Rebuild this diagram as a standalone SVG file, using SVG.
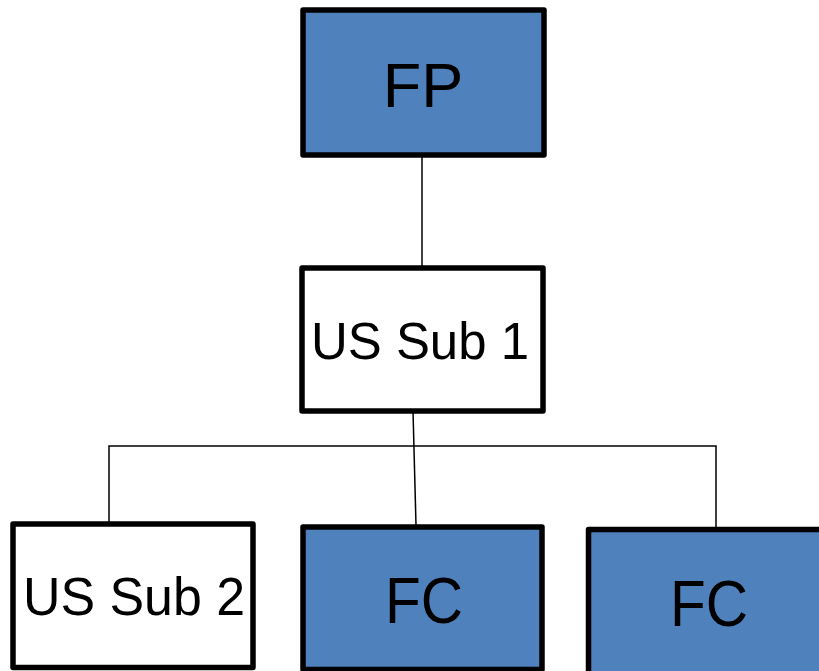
<svg xmlns="http://www.w3.org/2000/svg" width="819" height="671" viewBox="0 0 819 671">
<style>
.box{stroke:#000;stroke-width:5.5;stroke-linejoin:round}
.blue{fill:#4F81BD}
.white{fill:#fff}
.lbl{font-family:"Liberation Sans",Arial,sans-serif;fill:#000;text-anchor:middle}
.conn{stroke:#000;stroke-width:1.5;fill:none}
</style>
<rect width="819" height="671" fill="#fff"/>
<g id="connectors">
<line class="conn" x1="422" y1="155" x2="422" y2="268"/>
<line class="conn" x1="413" y1="411" x2="416" y2="525"/>
<polyline class="conn" points="109,522 109,446 716,446 716,528"/>
</g>
<g id="fp">
<rect class="box blue" x="303" y="10" width="241" height="145"/>
<text class="lbl" x="423" y="107" font-size="63">FP</text>
</g>
<g id="ussub1">
<rect class="box white" x="302" y="268" width="241" height="143"/>
<text class="lbl" x="420" y="359" font-size="52" textLength="218" lengthAdjust="spacingAndGlyphs">US Sub 1</text>
</g>
<g id="ussub2">
<rect class="box white" x="13" y="524" width="240" height="143.5"/>
<text class="lbl" x="134" y="615" font-size="54" textLength="222" lengthAdjust="spacingAndGlyphs">US Sub 2</text>
</g>
<g id="fc1">
<rect class="box blue" x="303" y="527" width="239" height="142.5"/>
<text class="lbl" x="424" y="623" font-size="64" textLength="78" lengthAdjust="spacingAndGlyphs">FC</text>
</g>
<g id="fc2">
<rect class="box blue" x="588.5" y="529.5" width="240" height="150"/>
<text class="lbl" x="709" y="626" font-size="64" textLength="78" lengthAdjust="spacingAndGlyphs">FC</text>
</g>
</svg>
